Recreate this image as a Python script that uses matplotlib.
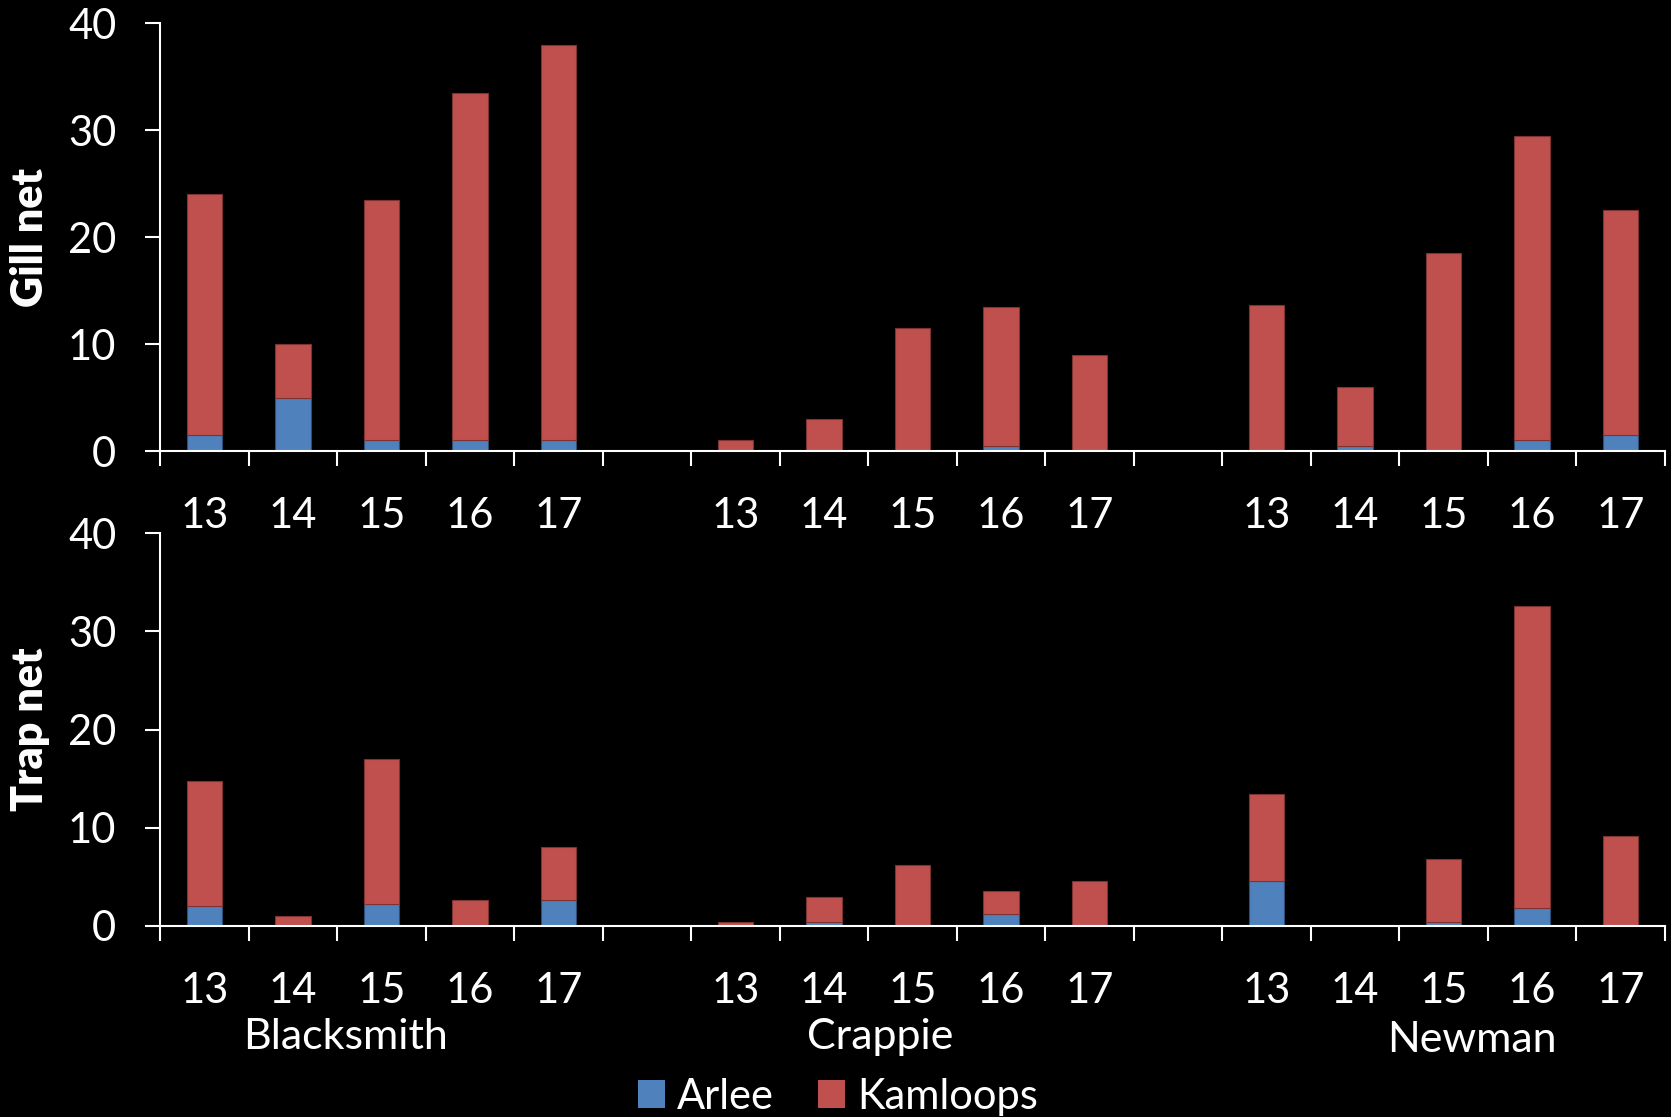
import matplotlib.pyplot as plt
from matplotlib.patches import Patch

plt.rcParams['font.family'] = ['Lato', 'DejaVu Sans']

# data
lakes = ['Blacksmith', 'Crappie', 'Newman']
years = ['13', '14', '15', '16', '17']

# order: Blacksmith 13-17, Crappie 13-17, Newman 13-17
gill_arlee = [1.5, 5, 1, 1, 1,
              0, 0, 0, 0.5, 0,
              0, 0.5, 0, 1, 1.5]
gill_kamloops = [22.5, 5, 22.5, 32.5, 37,
                 1, 3, 11.5, 13, 9,
                 13.7, 5.5, 18.5, 28.5, 21]
trap_arlee = [2, 0.15, 2.2, 0.15, 2.6,
              0, 0.4, 0, 1.2, 0,
              4.6, 0, 0.4, 1.8, 0]
trap_kamloops = [12.8, 0.85, 14.8, 2.45, 5.4,
                 0.4, 2.6, 6.2, 2.4, 4.6,
                 8.8, 0, 6.4, 30.8, 9.2]

blue = '#4F81BD'
red = '#C0504D'
fs = 30

# bar slots: 5 per lake with one empty slot between lakes
xpos = [g * 6 + i for g in range(len(lakes)) for i in range(len(years))]

fig = plt.figure(figsize=(16.71, 11.17), dpi=100, facecolor='black')
ax1 = fig.add_axes([0.0958, 0.5962, 0.9006, 0.3829])
ax2 = fig.add_axes([0.0958, 0.1710, 0.9006, 0.3518])


def draw_panel(ax, arlee, kamloops, ylabel):
    ax.set_facecolor('black')
    ax.bar(xpos, arlee, width=0.4, color=blue, edgecolor='#2c4d75', linewidth=0.8)
    ax.bar(xpos, kamloops, width=0.4, bottom=arlee, color=red,
           edgecolor='#7f3330', linewidth=0.8)
    ax.set_xlim(-0.5, 16.5)
    ax.set_ylim(0, 40)
    ax.set_yticks([0, 10, 20, 30, 40])
    # boundary ticks (no labels) and year labels at bar centres
    ax.set_xticks([x - 0.5 for x in range(18)])
    ax.set_xticklabels([])
    ax.set_xticks(xpos, minor=True)
    ax.set_xticklabels(years * len(lakes), minor=True)
    ax.tick_params(axis='x', which='major', direction='out', length=11,
                   width=1.5, color='white')
    ax.tick_params(axis='x', which='minor', length=0, pad=33,
                   labelsize=fs, labelcolor='white')
    ax.tick_params(axis='y', direction='out', length=10.5, width=1.5,
                   color='white', labelsize=fs, labelcolor='white', pad=21)
    for side in ['top', 'right']:
        ax.spines[side].set_visible(False)
    for side in ['left', 'bottom']:
        ax.spines[side].set_color('white')
        ax.spines[side].set_linewidth(1.5)
    ax.set_ylabel(ylabel, fontsize=31, fontweight='heavy', color='white', va='center')
    ax.yaxis.set_label_coords(-0.0864, 0.5)


draw_panel(ax1, gill_arlee, gill_kamloops, 'Gill net')
draw_panel(ax2, trap_arlee, trap_kamloops, 'Trap net')

# lake names under the lower panel
label_x = [1.60, 7.63, 14.32]
label_y = [-0.283, -0.283, -0.29]
for name, lx, ly in zip(lakes, label_x, label_y):
    ax2.text(lx, ly, name, transform=ax2.get_xaxis_transform(), ha='center',
             va='center', fontsize=fs + 1, color='white')

handles = [Patch(facecolor=blue, label='Arlee'), Patch(facecolor=red, label='Kamloops')]
fig.legend(handles=handles, loc='center', bbox_to_anchor=(0.5016, 0.0183), ncol=2,
           frameon=False, fontsize=fs, labelcolor='white', handlelength=0.65,
           handleheight=0.65, handletextpad=0.3, columnspacing=1.05,
           borderaxespad=0, borderpad=0)

fig.savefig('out.png', dpi=100, facecolor='black')
plt.close(fig)
